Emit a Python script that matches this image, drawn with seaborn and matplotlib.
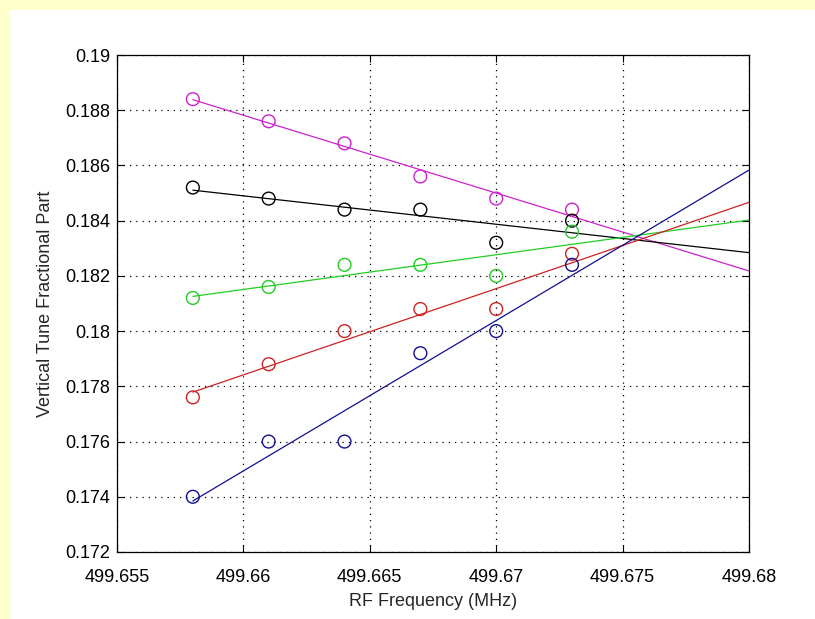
import numpy as np
import pandas as pd
import matplotlib
matplotlib.use("Agg")
import matplotlib.pyplot as plt
from matplotlib.patches import Rectangle
import seaborn as sns

# RF frequency steps (MHz) and measured vertical tune, one series per colour
rf_freq = [499.658, 499.661, 499.664, 499.667, 499.670, 499.673]
tune_magenta = [0.1884, 0.1876, 0.1868, 0.1856, 0.1848, 0.1844]
tune_black = [0.1852, 0.1848, 0.1844, 0.1844, 0.1832, 0.1840]
tune_green = [0.1812, 0.1816, 0.1824, 0.1824, 0.1820, 0.1836]
tune_red = [0.1776, 0.1788, 0.1800, 0.1808, 0.1808, 0.1828]
tune_blue = [0.1740, 0.1760, 0.1760, 0.1792, 0.1800, 0.1824]

xticks = [499.655, 499.66, 499.665, 499.67, 499.675, 499.68]
xticklabels = ["499.655", "499.66", "499.665", "499.67", "499.675", "499.68"]
yticks = [0.172, 0.174, 0.176, 0.178, 0.18, 0.182, 0.184, 0.186, 0.188, 0.19]
yticklabels = ["0.172", "0.174", "0.176", "0.178", "0.18", "0.182",
               "0.184", "0.186", "0.188", "0.19"]

series = [
  (tune_magenta, "#cc22cc"),
  (tune_black, "#000000"),
  (tune_green, "#22cc22"),
  (tune_red, "#cc2222"),
  (tune_blue, "#101090"),
]

sns.set_style("ticks")
plt.rcParams["font.family"] = ["Liberation Sans", "DejaVu Sans"]

fig = plt.figure(figsize=(8.15, 6.19), dpi=100)
fig.patch.set_facecolor("white")
# yellow strips along the top and left edge of the window
fig.patches.append(Rectangle((0, 1 - 10 / 619), 1, 10 / 619, transform=fig.transFigure,
                             facecolor="#ffffcc", edgecolor="none", zorder=-10))
fig.patches.append(Rectangle((0, 0), 10 / 815, 1, transform=fig.transFigure,
                             facecolor="#ffffcc", edgecolor="none", zorder=-10))
ax = fig.add_axes([117 / 815, 1 - 552 / 619, 632 / 815, 497 / 619])

for tune, col in series:
  df = pd.DataFrame({"freq": rf_freq, "tune": tune})
  # straight-line fit, drawn from first point out to the right axis limit
  coef = np.polyfit(df.freq - rf_freq[0], df.tune, 1)
  fx = np.array([rf_freq[0], xticks[-1]])
  fit = pd.DataFrame({"freq": fx, "tune": np.polyval(coef, fx - rf_freq[0])})
  sns.lineplot(data=fit, x="freq", y="tune", color=col, linewidth=0.9, ax=ax)
  sns.scatterplot(data=df, x="freq", y="tune", ax=ax, s=85, marker="o",
                  facecolor="none", edgecolor=col, linewidth=1.0, zorder=3)

ax.set_xlim(xticks[0], xticks[-1])
ax.set_ylim(yticks[0], yticks[-1])
ax.set_xticks(xticks)
ax.set_xticklabels(xticklabels)
ax.set_yticks(yticks)
ax.set_yticklabels(yticklabels)
ax.grid(True, color="black", linestyle=(0, (1, 4)), linewidth=0.9)
ax.tick_params(direction="in", length=5, width=0.8, top=True, right=True,
               labelsize=13, colors="black")
ax.tick_params(axis="x", pad=12)
ax.tick_params(axis="y", pad=5)
for sp in ax.spines.values():
  sp.set_visible(True)
  sp.set_linewidth(0.9)
  sp.set_color("black")
ax.set_xlabel("RF Frequency (MHz)", fontsize=13, labelpad=5)
ax.set_ylabel("Vertical Tune Fractional Part", fontsize=13, labelpad=8)

fig.savefig("out.png", dpi=100, facecolor=fig.get_facecolor())
